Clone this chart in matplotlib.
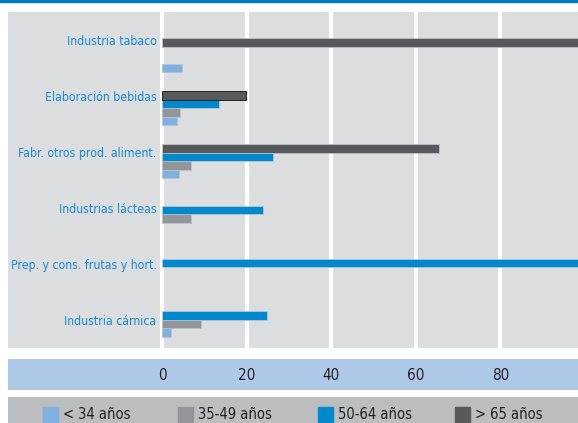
import numpy as np
import matplotlib.pyplot as plt
from matplotlib.patches import Rectangle

categories = ['Industria tabaco', 'Elaboración bebidas', 'Fabr. otros prod. aliment.',
              'Industrias lácteas', 'Prep. y cons. frutas y hort.', 'Industria cárnica']
series = ['< 34 años', '35-49 años', '50-64 años', '> 65 años']
under_34 = [4.6, 3.5, 4.0, 0, 0, 2.0]
from_35_49 = [0, 4.2, 6.8, 6.8, 0, 9.2]
from_50_64 = [0, 13.4, 26.2, 23.9, 100, 24.8]
over_65 = [100, 19.9, 65.6, 0, 0, 0]
ticks = [0, 20, 40, 60, 80]

colors = ['#7fb0e0', '#949598', '#0089cc', '#58595b']
label_blue = '#1a8ad0'
font = 'DejaVu Sans'
stretch = 'condensed'

W, H = 578, 423
fig = plt.figure(figsize=(W / 100, H / 100), dpi=100)


def box(x0, y0, x1, y1):
    # pixel box -> figure fraction rect
    return [x0 / W, 1 - y1 / H, (x1 - x0) / W, (y1 - y0) / H]


def panel(x0, y0, x1, y1, col):
    a = fig.add_axes(box(x0, y0, x1, y1))
    a.set_facecolor(col)
    a.set_xticks([])
    a.set_yticks([])
    for s in a.spines.values():
        s.set_visible(False)
    return a


fig.patches.append(Rectangle((0, 1 - 2 / H), 1, 2 / H, transform=fig.transFigure,
                             color='#0079c1', zorder=0))

lab = panel(8, 12, 158, 348, '#dcdddf')
ax = panel(158, 12, 578, 348, '#dcdddf')
band = panel(8, 359, 578, 390, '#aec8e8')
leg = panel(8, 397, 578, 423, '#bcbdbf')

n = len(categories)
y = np.arange(n)
h = 0.16
vals = [under_34, from_35_49, from_50_64, over_65]
offsets = [1.5, 0.5, -0.5, -1.5]
for v, off, c, name in zip(vals, offsets, colors, series):
    v = np.array(v, dtype=float)
    m = v > 0
    edges = ['#111111' if (name == '> 65 años' and i == 1) else '#b8c4d0' for i in range(n)]
    ax.barh((y + off * h)[m], v[m], height=h, color=c,
            edgecolor=np.array(edges)[m], linewidth=0.6, zorder=3)

ax.set_xlim(-1, 98.4)
ax.set_ylim(5.53, -0.82)
ax.set_xticks(ticks)
ax.grid(axis='x', color='white', linewidth=3, zorder=1)
ax.tick_params(length=0, labelbottom=False, labelleft=False)

# category labels on the left panel
lab.set_ylim(ax.get_ylim())
lab.set_xlim(0, 1)
lab_y = -0.27 + 1.06 * y
for yy, cat in zip(lab_y, categories):
    lab.text(0.99, yy, cat, ha='right', va='center', color=label_blue,
             fontsize=8.8, family=font, fontstretch=stretch)

# tick band, same x scale as the plot
band.set_xlim(-1 - 150 / 4.225, 98.4)
for t in ticks:
    band.text(t, 0.48, str(t), ha='center', va='center', fontsize=11, family=font,
              fontstretch=stretch, color='#231f20', transform=band.get_xaxis_transform())

# legend band
lx = [43, 178, 318, 455]
for x0, c, name in zip(lx, colors, series):
    fig.patches.append(Rectangle((x0 / W, 0), 15 / W, 16 / H, transform=fig.transFigure,
                                 color=c, zorder=5))
    fig.text((x0 + 20) / W, 1 - 414 / H, name, ha='left', va='center', fontsize=10.5,
             family=font, fontstretch=stretch, color='#231f20')

fig.savefig('out.png', dpi=100)
